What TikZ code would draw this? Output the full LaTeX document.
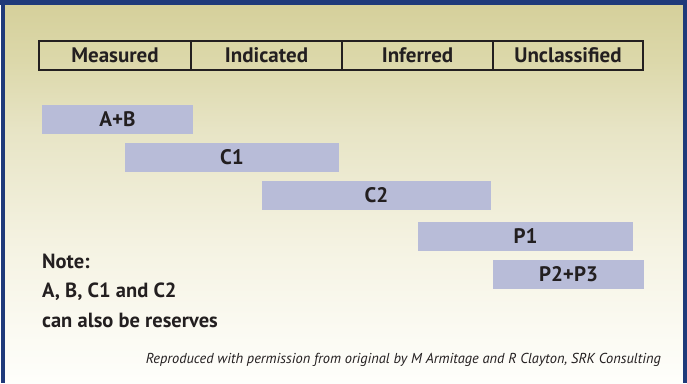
\documentclass[tikz,border=0pt]{standalone}
\usepackage{fontspec}
\setmainfont{PT Sans}
\definecolor{frameblue}{RGB}{31,58,122}
\definecolor{barfill}{RGB}{184,188,216}
\definecolor{ink}{RGB}{35,31,32}
\definecolor{bgA}{RGB}{213,208,155}
\definecolor{bgB}{RGB}{220,216,170}
\definecolor{bgC}{RGB}{231,228,197}
\definecolor{bgD}{RGB}{245,243,227}
\definecolor{bgE}{RGB}{251,250,242}
\definecolor{bgF}{RGB}{254,254,251}
\pgfdeclareverticalshading{bgshade}{100bp}{color(0bp)=(bgF); color(25bp)=(bgF); color(32bp)=(bgE); color(42.6bp)=(bgD); color(58.5bp)=(bgC); color(67.7bp)=(bgB); color(75bp)=(bgA); color(100bp)=(bgA)}
\tikzset{
  headcell/.style={draw=ink, line width=2pt, minimum height=29pt, inner sep=0pt, font=\bfseries\fontsize{21}{24}\selectfont, text=ink},
  barbox/.style={fill=barfill, minimum height=29pt, inner sep=0pt, font=\bfseries\fontsize{21}{24}\selectfont, text=ink},
  noteline/.style={anchor=base west, inner sep=0pt, text=ink, font=\bfseries\fontsize{20.5}{24}\selectfont},
}
\begin{document}
\begin{tikzpicture}[x=1pt,y=-1pt]
\useasboundingbox (0,0) rectangle (687,383);
\fill[white] (0,0) rectangle (687,383);
\shade[shading=bgshade] (4,5) rectangle (683,383);
\fill[frameblue] (0,0) rectangle (687,5);
\fill[frameblue] (1,0) rectangle (5,383);
\fill[frameblue] (683,0) rectangle (687,383);
% header
\node[headcell, minimum width=152pt] (meas) at (115,55.5) {Measured};
\node[headcell, minimum width=151pt] (indi) at (266.5,55.5) {Indicated};
\node[headcell, minimum width=151pt] (infe) at (417.5,55.5) {Inferred};
\node[headcell, minimum width=150pt] (uncl) at (568,55.5) {Unclassified};
% bars
\node[barbox, minimum width=151pt] (ab) at (117.5,119.5) {A+B};
\node[barbox, minimum width=214pt] (c1) at (232,157.5) {C1};
\node[barbox, minimum width=229pt] (c2) at (376.5,195.5) {C2};
\node[barbox, minimum width=215pt] (p1) at (525.5,236.5) {P1};
\node[barbox, minimum width=151pt] (p23) at (568.5,274.5) {P2+P3};
% note
\node[noteline] (note1) at (42,268) {Note:};
\node[noteline] (note2) at (42,297.5) {A, B, C1 and C2};
\node[noteline] (note3) at (42,327) {can also be reserves};
% credit
\node[anchor=east, inner sep=0pt, text=ink, font=\itshape\fontsize{14.4}{16}\selectfont] (credit) at (661,360) {Reproduced with permission from original by M Armitage and R Clayton, SRK Consulting};
\end{tikzpicture}
\end{document}
